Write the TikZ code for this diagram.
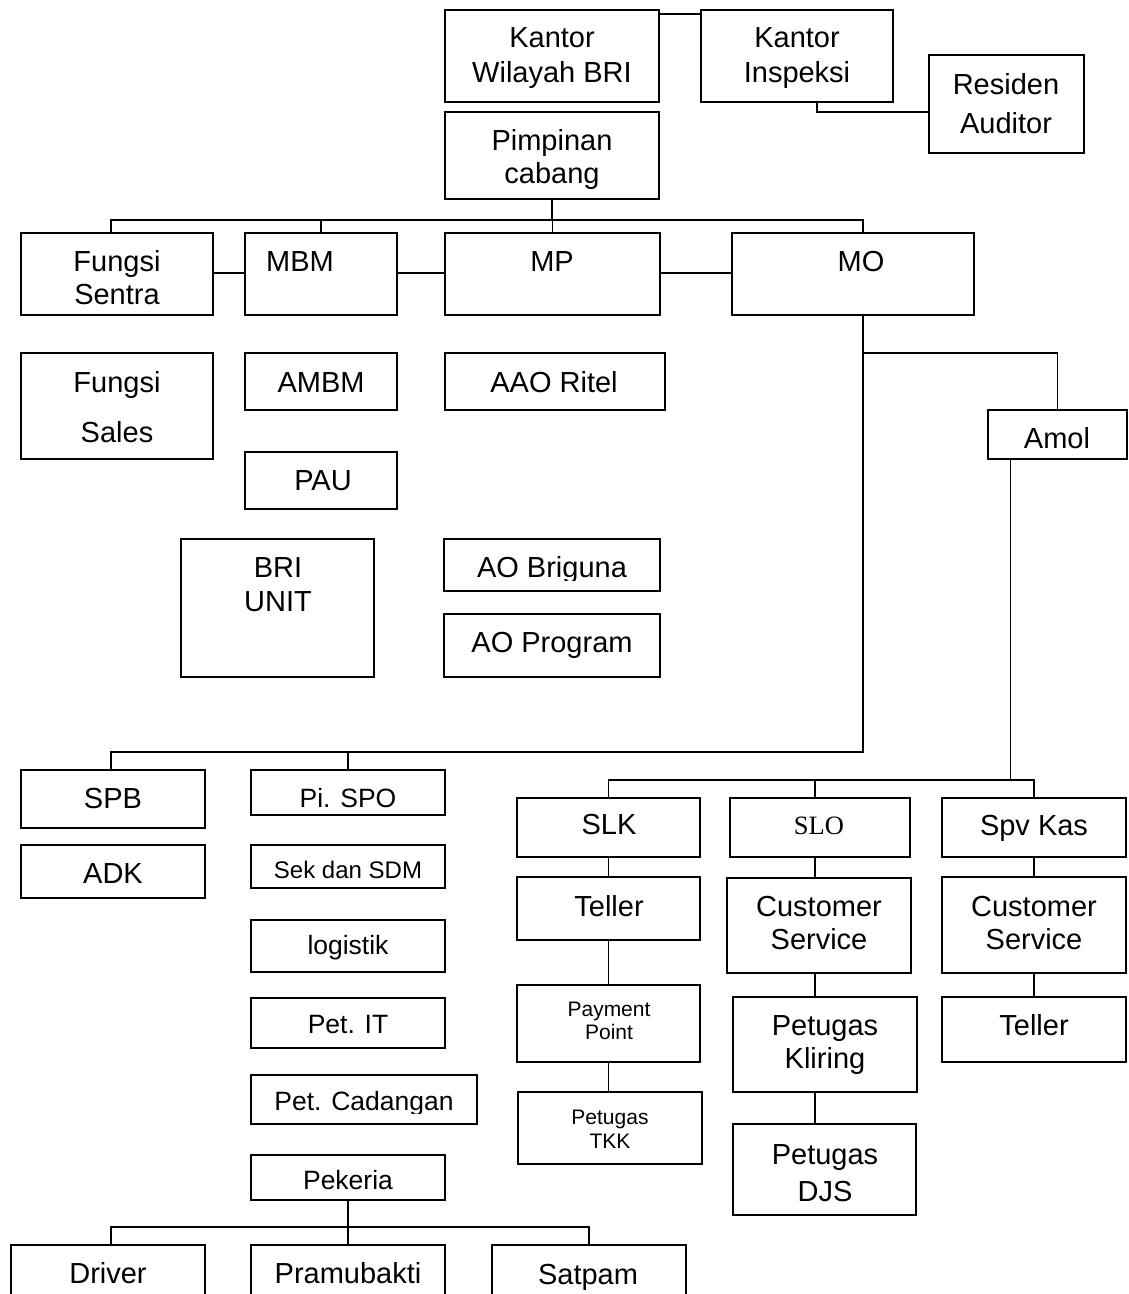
\documentclass[tikz,border=0pt]{standalone}
\usepackage{fontspec}
\setmainfont{Liberation Sans}
\newfontfamily\serifface{Liberation Serif}
\newcommand{\fbig}{\fontsize{29}{34}\selectfont}
\newcommand{\fmid}{\fontsize{26.5}{31}\selectfont}
\newcommand{\fsdm}{\fontsize{24}{29}\selectfont}
\newcommand{\fsml}{\fontsize{21}{25}\selectfont}
\newcommand{\fser}{\serifface\fontsize{26.5}{31}\selectfont}
\tikzset{
  bx/.style={draw=black, line width=2pt, rectangle, inner sep=0pt, fill=white},
  tx/.style={anchor=base, inner sep=0pt, text=black},
  conn/.style={draw=black, line width=1.8pt},
}
\newcommand{\bx}[5]{\node[bx, minimum width={(#4)-(#2)}, minimum height={(#5)-(#3)}] (#1) at ({((#2)+(#4))/2},{((#3)+(#5))/2}) {};}
\newcommand{\tx}[5]{\node[tx, font=#4] (#1) at (#2,#3) {#5};}
\begin{document}
\begin{tikzpicture}[x=1pt,y=-1pt]
\useasboundingbox (0,0) rectangle (1128,1294);
\fill[white] (0,0) rectangle (1128,1294);
\clip (0,0) rectangle (1128,1294);
% coordinates for bus bars
\coordinate (bar1) at (0,220);
\coordinate (bar2) at (0,752);
\coordinate (bar3) at (0,353);
\coordinate (bar4) at (0,780);
\coordinate (bar5) at (0,1227);
% boxes
\bx{kw}{445}{10}{659}{102}
\bx{ki}{701}{10}{893}{102}
\bx{ra}{929}{55}{1084}{153}
\bx{pc}{445}{112}{659}{199}
\bx{fsen}{21}{233}{213}{315}
\bx{mbm}{245}{233}{397}{315}
\bx{mp}{445}{233}{660}{315}
\bx{mo}{732}{233}{974}{315}
\bx{fsal}{21}{353}{213}{459}
\bx{ambm}{245}{353}{397}{410}
\bx{aao}{445}{353}{665}{410}
\bx{amol}{988}{410}{1127}{459}
\bx{pau}{245}{452}{397}{509}
\bx{bri}{181}{539}{374}{677}
\bx{aob}{444}{539}{660}{591}
\bx{aop}{444}{614}{660}{677}
\bx{spb}{21}{770}{205}{828}
\bx{adk}{21}{845}{205}{898}
\bx{spo}{251}{770}{445}{815}
\bx{sdm}{251}{845}{445}{888}
\bx{log}{251}{920}{445}{972}
\bx{pit}{251}{998}{445}{1048}
\bx{pcad}{251}{1075}{477}{1124}
\bx{pek}{251}{1155}{445}{1200}
\bx{drv}{11}{1245}{205}{1310}
\bx{pram}{251}{1245}{445}{1310}
\bx{sat}{492}{1245}{686}{1310}
\bx{slk}{517}{798}{700}{857}
\bx{slo}{730}{798}{910}{857}
\bx{spv}{942}{798}{1126}{857}
\bx{tel1}{517}{877}{700}{940}
\bx{cs1}{727}{878}{911}{973}
\bx{cs2}{942}{877}{1126}{973}
\bx{pp}{517}{985}{700}{1062}
\bx{kl}{733}{997}{917}{1092}
\bx{tel2}{942}{997}{1126}{1062}
\bx{tkk}{518}{1092}{702}{1164}
\bx{djs}{733}{1124}{916}{1215}
% connectors
\draw[conn] ([yshift=-5pt]kw.north east) -- ([yshift=-5pt]ki.north west);
\draw[conn] ([xshift=20pt]ki.south) |- ([yshift=-8pt]ra.west);
\draw[conn] (pc.south) -- (pc.south |- bar1);
\draw[conn] ([xshift=-6pt]fsen.north) |- ([xshift=10pt]mo.north |- bar1) -- ([xshift=10pt]mo.north);
\draw[conn] (mbm.north) -- (mbm.north |- bar1);
\draw[conn] (mp.north) -- (mp.north |- bar1);
\draw[conn] ([yshift=1pt]fsen.east) -- ([yshift=1pt]mbm.west);
\draw[conn] ([yshift=1pt]mbm.east) -- ([yshift=1pt]mp.west);
\draw[conn] ([yshift=1pt]mp.east) -- ([yshift=1pt]mo.west);
\draw[conn] ([xshift=10pt]mo.south) |- ([xshift=-2pt]spb.north |- bar2) -- ([xshift=-2pt]spb.north);
\draw[conn] (spo.north) -- (spo.north |- bar2);
\draw[conn] ([xshift=10pt]mo.south |- bar3) -| (amol.north);
\draw[conn] ([xshift=-47pt]amol.south) -- ([xshift=-47pt]amol.south |- bar4);
\draw[conn] (slk.north) |- (spv.north |- bar4) -- (spv.north);
\draw[conn] ([xshift=-5pt]slo.north) -- ([xshift=-5pt]slo.north |- bar4);
\draw[conn] (slk.south) -- (tel1.north);
\draw[conn] (tel1.south) -- (pp.north);
\draw[conn] (pp.south) -- (pp.south |- tkk.north);
\draw[conn] ([xshift=-5pt]slo.south) -- ([xshift=-5pt]slo.south |- cs1.north);
\draw[conn] ([xshift=-4pt]cs1.south) -- ([xshift=-4pt]cs1.south |- kl.north);
\draw[conn] ([xshift=-10pt]kl.south) -- ([xshift=-10pt]kl.south |- djs.north);
\draw[conn] (spv.south) -- (cs2.north);
\draw[conn] (cs2.south) -- (tel2.north);
\draw[conn] (pek.south) -- (pek.south |- bar5);
\draw[conn] ([xshift=3pt]drv.north) |- (sat.north |- bar5) -- (sat.north);
\draw[conn] (pram.north) -- (pram.north |- bar5);
% texts
\tx{t-kw1}{552}{47}{\fbig}{Kantor}
\tx{t-kw2}{552}{82}{\fbig}{Wilayah BRI}
\tx{t-ki1}{797}{47}{\fbig}{Kantor}
\tx{t-ki2}{797}{82}{\fbig}{Inspeksi}
\tx{t-ra1}{1006}{94}{\fbig}{Residen}
\tx{t-ra2}{1006}{133}{\fbig}{Auditor}
\tx{t-pc1}{552}{150}{\fbig}{Pimpinan}
\tx{t-pc2}{552}{183}{\fbig}{cabang}
\tx{t-fs1}{117}{271}{\fbig}{Fungsi}
\tx{t-fs2}{117}{304}{\fbig}{Sentra}
\tx{t-mbm}{300}{271}{\fbig}{MBM}
\tx{t-mp}{552}{271}{\fbig}{MP}
\tx{t-mo}{861}{271}{\fbig}{MO}
\tx{t-fa1}{117}{392}{\fbig}{Fungsi}
\tx{t-fa2}{117}{442}{\fbig}{Sales}
\tx{t-ambm}{321}{392}{\fbig}{AMBM}
\tx{t-aao}{554}{392}{\fbig}{AAO Ritel}
\tx{t-amol}{1057}{448}{\fbig}{Amol}
\tx{t-pau}{323}{490}{\fbig}{PAU}
\tx{t-bri1}{278}{577}{\fbig}{BRI}
\tx{t-bri2}{278}{611}{\fbig}{UNIT}
\begin{scope}
\clip (444,539) rectangle (660,580);
\tx{t-aob}{552}{577}{\fbig}{AO Briguna}
\end{scope}
\tx{t-aop}{552}{652}{\fbig}{AO Program}
\tx{t-spb}{113}{808}{\fbig}{SPB}
\tx{t-adk}{113}{883}{\fbig}{ADK}
\tx{t-spo}{348}{807}{\fmid}{Pi. SPO}
\tx{t-sdm}{348}{878}{\fsdm}{Sek dan SDM}
\tx{t-log}{348}{954}{\fmid}{logistik}
\tx{t-pit}{348}{1033}{\fmid}{Pet. IT}
\begin{scope}
\clip (251,1075) rectangle (477,1113);
\tx{t-pcad}{364}{1110}{\fmid}{Pet. Cadangan}
\end{scope}
\tx{t-pek}{348}{1189}{\fmid}{Pekeria}
\tx{t-drv}{108}{1283}{\fbig}{Driver}
\tx{t-pram}{348}{1283}{\fbig}{Pramubakti}
\tx{t-sat}{588}{1284}{\fbig}{Satpam}
\tx{t-slk}{609}{834}{\fbig}{SLK}
\tx{t-slo}{819}{834}{\fser}{SLO}
\tx{t-spv}{1034}{835}{\fbig}{Spv Kas}
\tx{t-tel1}{609}{916}{\fbig}{Teller}
\tx{t-cs11}{819}{916}{\fbig}{Customer}
\tx{t-cs12}{819}{949}{\fbig}{Service}
\tx{t-cs21}{1034}{916}{\fbig}{Customer}
\tx{t-cs22}{1034}{949}{\fbig}{Service}
\tx{t-pp1}{609}{1016}{\fsml}{Payment}
\tx{t-pp2}{609}{1039}{\fsml}{Point}
\tx{t-kl1}{825}{1035}{\fbig}{Petugas}
\tx{t-kl2}{825}{1068}{\fbig}{Kliring}
\tx{t-tel2}{1034}{1035}{\fbig}{Teller}
\tx{t-tkk1}{610}{1124}{\fsml}{Petugas}
\tx{t-tkk2}{610}{1148}{\fsml}{TKK}
\tx{t-djs1}{825}{1164}{\fbig}{Petugas}
\tx{t-djs2}{825}{1201}{\fbig}{DJS}
\end{tikzpicture}
\end{document}
